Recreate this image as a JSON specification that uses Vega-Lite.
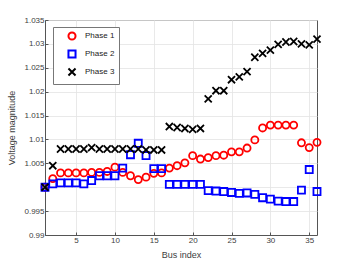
{
  "$schema": "https://vega.github.io/schema/vega-lite/v6.json",
  "width": 272,
  "height": 215,
  "autosize": "none",
  "padding": {"left": 45, "top": 20, "right": 33, "bottom": 28},
  "background": "white",
  "config": {
    "font": "Liberation Sans",
    "view": {"stroke": "#555555", "strokeWidth": 1},
    "axis": {
      "labelFont": "Liberation Sans",
      "titleFont": "Liberation Sans",
      "labelFontSize": 8,
      "titleFontSize": 9,
      "titleFontWeight": "normal",
      "labelColor": "#404040",
      "titleColor": "#404040",
      "gridColor": "#e3e3e3",
      "gridWidth": 0.8,
      "domainColor": "#555555",
      "tickColor": "#555555",
      "tickSize": -3
    }
  },
  "data": {
    "values": [
      {"bus":1,"phase":"Phase 1","v":1.0000},{"bus":2,"phase":"Phase 1","v":1.0018},{"bus":3,"phase":"Phase 1","v":1.0030},{"bus":4,"phase":"Phase 1","v":1.0030},{"bus":5,"phase":"Phase 1","v":1.0030},{"bus":6,"phase":"Phase 1","v":1.0030},{"bus":7,"phase":"Phase 1","v":1.0031},{"bus":8,"phase":"Phase 1","v":1.0031},{"bus":9,"phase":"Phase 1","v":1.0033},{"bus":10,"phase":"Phase 1","v":1.0042},{"bus":11,"phase":"Phase 1","v":1.0031},{"bus":12,"phase":"Phase 1","v":1.0024},{"bus":13,"phase":"Phase 1","v":1.0016},{"bus":14,"phase":"Phase 1","v":1.0021},{"bus":15,"phase":"Phase 1","v":1.0029},{"bus":16,"phase":"Phase 1","v":1.0030},{"bus":17,"phase":"Phase 1","v":1.0040},{"bus":18,"phase":"Phase 1","v":1.0045},{"bus":19,"phase":"Phase 1","v":1.0051},{"bus":20,"phase":"Phase 1","v":1.0066},{"bus":21,"phase":"Phase 1","v":1.0059},{"bus":22,"phase":"Phase 1","v":1.0062},{"bus":23,"phase":"Phase 1","v":1.0066},{"bus":24,"phase":"Phase 1","v":1.0067},{"bus":25,"phase":"Phase 1","v":1.0074},{"bus":26,"phase":"Phase 1","v":1.0074},{"bus":27,"phase":"Phase 1","v":1.0082},{"bus":28,"phase":"Phase 1","v":1.0099},{"bus":29,"phase":"Phase 1","v":1.0124},{"bus":30,"phase":"Phase 1","v":1.0130},{"bus":31,"phase":"Phase 1","v":1.0130},{"bus":32,"phase":"Phase 1","v":1.0130},{"bus":33,"phase":"Phase 1","v":1.0130},{"bus":34,"phase":"Phase 1","v":1.0093},{"bus":35,"phase":"Phase 1","v":1.0083},{"bus":36,"phase":"Phase 1","v":1.0094},
      {"bus":1,"phase":"Phase 2","v":1.0000},{"bus":2,"phase":"Phase 2","v":1.0007},{"bus":3,"phase":"Phase 2","v":1.0009},{"bus":4,"phase":"Phase 2","v":1.0009},{"bus":5,"phase":"Phase 2","v":1.0009},{"bus":6,"phase":"Phase 2","v":1.0007},{"bus":7,"phase":"Phase 2","v":1.0014},{"bus":8,"phase":"Phase 2","v":1.0024},{"bus":9,"phase":"Phase 2","v":1.0024},{"bus":10,"phase":"Phase 2","v":1.0024},{"bus":11,"phase":"Phase 2","v":1.0040},{"bus":12,"phase":"Phase 2","v":1.0068},{"bus":13,"phase":"Phase 2","v":1.0092},{"bus":14,"phase":"Phase 2","v":1.0066},{"bus":15,"phase":"Phase 2","v":1.0039},{"bus":16,"phase":"Phase 2","v":1.0039},{"bus":17,"phase":"Phase 2","v":1.0006},{"bus":18,"phase":"Phase 2","v":1.0006},{"bus":19,"phase":"Phase 2","v":1.0006},{"bus":20,"phase":"Phase 2","v":1.0006},{"bus":21,"phase":"Phase 2","v":1.0006},{"bus":22,"phase":"Phase 2","v":0.9993},{"bus":23,"phase":"Phase 2","v":0.9992},{"bus":24,"phase":"Phase 2","v":0.9991},{"bus":25,"phase":"Phase 2","v":0.9989},{"bus":26,"phase":"Phase 2","v":0.9987},{"bus":27,"phase":"Phase 2","v":0.9988},{"bus":28,"phase":"Phase 2","v":0.9985},{"bus":29,"phase":"Phase 2","v":0.9978},{"bus":30,"phase":"Phase 2","v":0.9975},{"bus":31,"phase":"Phase 2","v":0.9971},{"bus":32,"phase":"Phase 2","v":0.9970},{"bus":33,"phase":"Phase 2","v":0.9970},{"bus":34,"phase":"Phase 2","v":0.9994},{"bus":35,"phase":"Phase 2","v":1.0037},{"bus":36,"phase":"Phase 2","v":0.9991},
      {"bus":1,"phase":"Phase 3","v":1.0000},{"bus":2,"phase":"Phase 3","v":1.0045},{"bus":3,"phase":"Phase 3","v":1.0080},{"bus":4,"phase":"Phase 3","v":1.0080},{"bus":5,"phase":"Phase 3","v":1.0080},{"bus":6,"phase":"Phase 3","v":1.0080},{"bus":7,"phase":"Phase 3","v":1.0083},{"bus":8,"phase":"Phase 3","v":1.0080},{"bus":9,"phase":"Phase 3","v":1.0080},{"bus":10,"phase":"Phase 3","v":1.0080},{"bus":11,"phase":"Phase 3","v":1.0080},{"bus":12,"phase":"Phase 3","v":1.0080},{"bus":13,"phase":"Phase 3","v":1.0080},{"bus":14,"phase":"Phase 3","v":1.0078},{"bus":15,"phase":"Phase 3","v":1.0078},{"bus":16,"phase":"Phase 3","v":1.0078},{"bus":17,"phase":"Phase 3","v":1.0127},{"bus":18,"phase":"Phase 3","v":1.0125},{"bus":19,"phase":"Phase 3","v":1.0123},{"bus":20,"phase":"Phase 3","v":1.0121},{"bus":21,"phase":"Phase 3","v":1.0123},{"bus":22,"phase":"Phase 3","v":1.0185},{"bus":23,"phase":"Phase 3","v":1.0202},{"bus":24,"phase":"Phase 3","v":1.0202},{"bus":25,"phase":"Phase 3","v":1.0225},{"bus":26,"phase":"Phase 3","v":1.0231},{"bus":27,"phase":"Phase 3","v":1.0242},{"bus":28,"phase":"Phase 3","v":1.0272},{"bus":29,"phase":"Phase 3","v":1.0280},{"bus":30,"phase":"Phase 3","v":1.0287},{"bus":31,"phase":"Phase 3","v":1.0299},{"bus":32,"phase":"Phase 3","v":1.0304},{"bus":33,"phase":"Phase 3","v":1.0305},{"bus":34,"phase":"Phase 3","v":1.0300},{"bus":35,"phase":"Phase 3","v":1.0298},{"bus":36,"phase":"Phase 3","v":1.0310}
    ]
  },
  "mark": {"type": "point", "filled": false, "size": 50, "strokeWidth": 1.8, "opacity": 1},
  "encoding": {
    "x": {
      "field": "bus", "type": "quantitative",
      "scale": {"domain": [1, 36], "nice": false, "zero": false},
      "axis": {"title": "Bus index", "values": [5, 10, 15, 20, 25, 30, 35], "labelPadding": 4, "titlePadding": 6}
    },
    "y": {
      "field": "v", "type": "quantitative",
      "scale": {"domain": [0.99, 1.035], "nice": false, "zero": false},
      "axis": {"title": "Voltage magnitude", "values": [0.99, 0.995, 1, 1.005, 1.01, 1.015, 1.02, 1.025, 1.03, 1.035], "format": ".4~f", "labelPadding": 4, "titlePadding": 7}
    },
    "color": {
      "field": "phase", "type": "nominal",
      "scale": {"domain": ["Phase 1", "Phase 2", "Phase 3"], "range": ["#ff0000", "#0000ff", "#000000"]},
      "legend": {
        "title": null, "orient": "none", "legendX": 8, "legendY": 7,
        "strokeColor": "#777777", "fillColor": "white", "padding": 4,
        "labelFont": "Liberation Sans", "labelFontSize": 8, "labelColor": "#222222",
        "symbolOffset": 10, "labelOffset": 8, "rowPadding": 2, "symbolStrokeWidth": 2, "symbolSize": 50
      }
    },
    "shape": {
      "field": "phase", "type": "nominal",
      "scale": {"domain": ["Phase 1", "Phase 2", "Phase 3"], "range": ["circle", "square", "M-1,-1L1,1M-1,1L1,-1"]}
    }
  }
}
